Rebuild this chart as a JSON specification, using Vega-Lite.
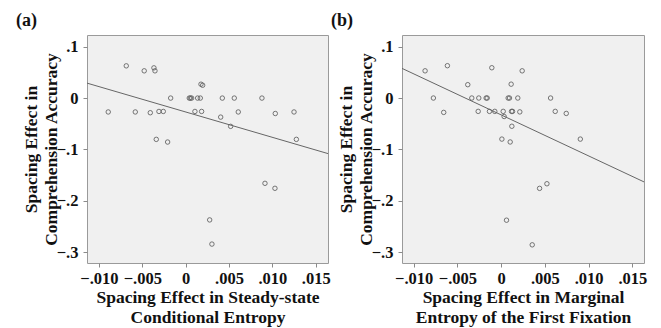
{
  "$schema": "https://vega.github.io/schema/vega-lite/v6.json",
  "autosize": {"type": "none"},
  "padding": {"left": 87, "top": 35, "right": 574, "bottom": 293},
  "background": "white",
  "spacing": 74,
  "bounds": "flush",
  "config": {
    "font": "Liberation Serif",
    "view": {"stroke": "#9a9a9a", "fill": "#f0f0f0", "strokeWidth": 1},
    "axis": {
      "domain": false,
      "grid": false,
      "tickColor": "#8a8a8a",
      "tickSize": 4,
      "labelFont": "Liberation Serif",
      "labelFontWeight": "bold",
      "labelFontSize": 16.5,
      "labelColor": "#111",
      "titleFont": "Liberation Serif",
      "titleFontWeight": "bold",
      "titleFontSize": 17.5,
      "titleColor": "#111",
      "titleLineHeight": 20
    },
    "title": {"font": "Liberation Serif", "fontWeight": "bold", "fontSize": 18, "color": "#111", "anchor": "start", "frame": "group"}
  },
  "datasets": {
    "a_pts": [
      {"x": -0.00893, "y": -0.027}, {"x": -0.00685, "y": 0.0627}, {"x": -0.00581, "y": -0.027},
      {"x": -0.00478, "y": 0.053}, {"x": -0.00408, "y": -0.0285}, {"x": -0.00366, "y": 0.0588},
      {"x": -0.00354, "y": 0.053}, {"x": -0.00339, "y": -0.0803}, {"x": -0.00308, "y": -0.026},
      {"x": -0.00258, "y": -0.026}, {"x": -0.00208, "y": -0.0855}, {"x": -0.00173, "y": 0},
      {"x": 0.00042, "y": 0}, {"x": 0.00055, "y": 0}, {"x": 0.00069, "y": 0},
      {"x": 0.00107, "y": -0.026}, {"x": 0.00138, "y": 0}, {"x": 0.00169, "y": 0},
      {"x": 0.00177, "y": 0.027}, {"x": 0.00196, "y": 0.025}, {"x": 0.00184, "y": -0.026},
      {"x": 0.00404, "y": -0.037}, {"x": 0.00423, "y": 0}, {"x": 0.00519, "y": -0.055},
      {"x": 0.00561, "y": 0}, {"x": 0.00607, "y": -0.027}, {"x": 0.0088, "y": 0},
      {"x": 0.01034, "y": -0.03}, {"x": 0.0125, "y": -0.027}, {"x": 0.01277, "y": -0.0803},
      {"x": 0.00915, "y": -0.1658}, {"x": 0.0103, "y": -0.1755}, {"x": 0.00277, "y": -0.237},
      {"x": 0.00303, "y": -0.284}
    ],
    "a_fit": [{"x": -0.01138, "y": 0.0291}, {"x": 0.01642, "y": -0.108}],
    "b_pts": [
      {"x": -0.0087, "y": 0.053}, {"x": -0.00775, "y": 0}, {"x": -0.00657, "y": -0.028},
      {"x": -0.00615, "y": 0.063}, {"x": -0.00382, "y": 0.026}, {"x": -0.00336, "y": 0},
      {"x": -0.00263, "y": -0.026}, {"x": -0.00256, "y": 0}, {"x": -0.00172, "y": 0},
      {"x": -0.0016, "y": 0}, {"x": -0.00134, "y": -0.026}, {"x": -0.00107, "y": 0.059},
      {"x": -0.00073, "y": -0.026}, {"x": 0.00008, "y": -0.08}, {"x": 0.00023, "y": -0.026},
      {"x": 0.00034, "y": -0.036}, {"x": 0.0008, "y": 0}, {"x": 0.00095, "y": 0},
      {"x": 0.00103, "y": -0.0856}, {"x": 0.00114, "y": 0.027}, {"x": 0.00118, "y": -0.026},
      {"x": 0.0013, "y": -0.026}, {"x": 0.00122, "y": -0.055}, {"x": 0.0019, "y": 0},
      {"x": 0.00213, "y": -0.027}, {"x": 0.0024, "y": 0.053}, {"x": 0.00565, "y": 0},
      {"x": 0.00618, "y": -0.026}, {"x": 0.00744, "y": -0.03}, {"x": 0.00905, "y": -0.08},
      {"x": 0.00439, "y": -0.176}, {"x": 0.00523, "y": -0.167}, {"x": 0.00061, "y": -0.238},
      {"x": 0.00355, "y": -0.286}
    ],
    "b_fit": [{"x": -0.01134, "y": 0.0578}, {"x": 0.01633, "y": -0.1634}]
  },
  "hconcat": [
    {
      "width": 241,
      "height": 228,
      "title": {"text": "(a)", "dx": -71, "offset": 5},
      "encoding": {
        "x": {
          "field": "x", "type": "quantitative",
          "scale": {"domain": [-0.01138, 0.01642], "nice": false, "zero": false},
          "axis": {
            "values": [-0.01, -0.005, 0, 0.005, 0.01, 0.015],
            "labelExpr": "datum.value == 0 ? '0' : replace(format(datum.value, '.3f'), '0.', '.')",
            "title": ["Spacing Effect in Steady-state", "Conditional Entropy"],
            "labelPadding": 3,
            "titlePadding": 2
          }
        },
        "y": {
          "field": "y", "type": "quantitative",
          "scale": {"domain": [-0.3208, 0.1227], "nice": false, "zero": false},
          "axis": {
            "values": [-0.3, -0.2, -0.1, 0, 0.1],
            "labelExpr": "datum.value == 0 ? '0' : replace(format(datum.value, '.1f'), '0.', '.')",
            "title": ["Spacing Effect  in", "Comprehension Accuracy"],
            "labelPadding": 5,
            "titlePadding": -4
          }
        }
      },
      "layer": [
        {
          "data": {"name": "a_pts"},
          "mark": {"type": "point", "shape": "circle", "filled": false, "size": 20, "stroke": "#555", "strokeWidth": 0.8, "opacity": 1}
        },
        {
          "data": {"name": "a_fit"},
          "mark": {"type": "line", "color": "#666", "strokeWidth": 1}
        }
      ]
    },
    {
      "width": 242,
      "height": 228,
      "title": {"text": "(b)", "dx": -71, "offset": 5},
      "encoding": {
        "x": {
          "field": "x", "type": "quantitative",
          "scale": {"domain": [-0.01134, 0.01633], "nice": false, "zero": false},
          "axis": {
            "values": [-0.01, -0.005, 0, 0.005, 0.01, 0.015],
            "labelExpr": "datum.value == 0 ? '0' : replace(format(datum.value, '.3f'), '0.', '.')",
            "title": ["Spacing Effect in Marginal", "Entropy of the First Fixation"],
            "labelPadding": 3,
            "titlePadding": 2
          }
        },
        "y": {
          "field": "y", "type": "quantitative",
          "scale": {"domain": [-0.3214, 0.1228], "nice": false, "zero": false},
          "axis": {
            "values": [-0.3, -0.2, -0.1, 0, 0.1],
            "labelExpr": "datum.value == 0 ? '0' : replace(format(datum.value, '.1f'), '0.', '.')",
            "title": ["Spacing Effect  in", "Comprehension Accuracy"],
            "labelPadding": 5,
            "titlePadding": -4
          }
        }
      },
      "layer": [
        {
          "data": {"name": "b_pts"},
          "mark": {"type": "point", "shape": "circle", "filled": false, "size": 20, "stroke": "#555", "strokeWidth": 0.8, "opacity": 1}
        },
        {
          "data": {"name": "b_fit"},
          "mark": {"type": "line", "color": "#666", "strokeWidth": 1}
        }
      ]
    }
  ]
}
